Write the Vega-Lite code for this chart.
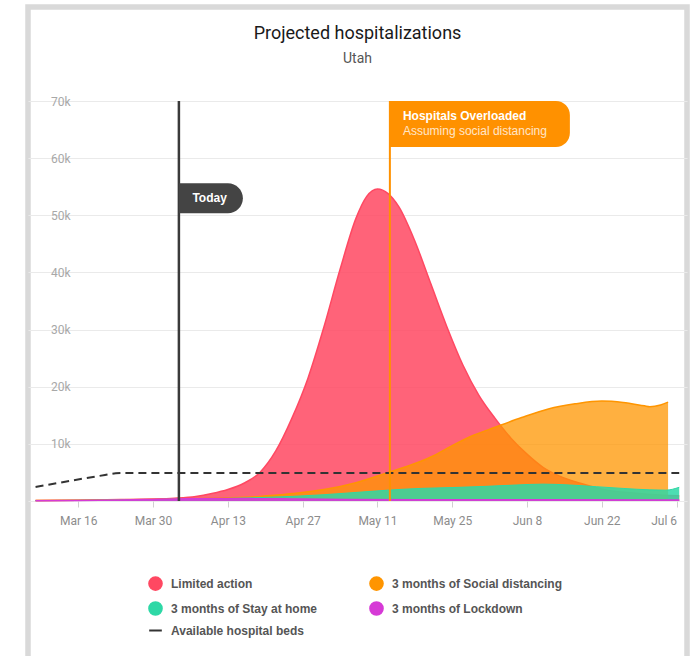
{
  "$schema": "https://vega.github.io/schema/vega-lite/v6.json",
  "width": 659,
  "height": 653,
  "autosize": {"type": "none"},
  "padding": {"left": 28, "top": 7, "right": 5, "bottom": -4},
  "background": "white",
  "title": {
    "text": "Projected hospitalizations",
    "subtitle": "Utah",
    "anchor": "middle",
    "frame": "group",
    "font": "Roboto",
    "fontSize": 18,
    "fontWeight": 400,
    "color": "#1a1a1a",
    "subtitleFont": "Roboto",
    "subtitleFontSize": 14,
    "subtitleColor": "#555555",
    "subtitlePadding": 9,
    "offset": -59
  },
  "config": {
    "view": {"stroke": "#d9d9d9", "strokeWidth": 5.5, "fill": "white"},
    "font": "Liberation Sans"
  },
  "datasets": {
    "curves": [
      {"s": "Limited action", "d": "2020-03-08T00:00", "v": 100},
      {"s": "Limited action", "d": "2020-03-16T00:00", "v": 150},
      {"s": "Limited action", "d": "2020-03-24T00:00", "v": 250},
      {"s": "Limited action", "d": "2020-03-30T00:00", "v": 350},
      {"s": "Limited action", "d": "2020-04-03T00:00", "v": 500},
      {"s": "Limited action", "d": "2020-04-07T00:00", "v": 800},
      {"s": "Limited action", "d": "2020-04-10T00:00", "v": 1300},
      {"s": "Limited action", "d": "2020-04-13T00:00", "v": 2000},
      {"s": "Limited action", "d": "2020-04-16T00:00", "v": 3100},
      {"s": "Limited action", "d": "2020-04-19T00:00", "v": 5000},
      {"s": "Limited action", "d": "2020-04-22T00:00", "v": 8800},
      {"s": "Limited action", "d": "2020-04-25T00:00", "v": 14500},
      {"s": "Limited action", "d": "2020-04-28T00:00", "v": 21500},
      {"s": "Limited action", "d": "2020-05-01T00:00", "v": 30500},
      {"s": "Limited action", "d": "2020-05-04T00:00", "v": 40500},
      {"s": "Limited action", "d": "2020-05-07T00:00", "v": 49500},
      {"s": "Limited action", "d": "2020-05-09T00:00", "v": 53300},
      {"s": "Limited action", "d": "2020-05-11T00:00", "v": 54600},
      {"s": "Limited action", "d": "2020-05-13T00:00", "v": 53800},
      {"s": "Limited action", "d": "2020-05-15T00:00", "v": 51500},
      {"s": "Limited action", "d": "2020-05-18T00:00", "v": 45500},
      {"s": "Limited action", "d": "2020-05-21T00:00", "v": 38000},
      {"s": "Limited action", "d": "2020-05-24T00:00", "v": 30500},
      {"s": "Limited action", "d": "2020-05-27T00:00", "v": 23800},
      {"s": "Limited action", "d": "2020-05-30T00:00", "v": 18500},
      {"s": "Limited action", "d": "2020-06-02T00:00", "v": 14500},
      {"s": "Limited action", "d": "2020-06-05T00:00", "v": 11000},
      {"s": "Limited action", "d": "2020-06-08T00:00", "v": 8200},
      {"s": "Limited action", "d": "2020-06-11T00:00", "v": 5900},
      {"s": "Limited action", "d": "2020-06-14T00:00", "v": 4400},
      {"s": "Limited action", "d": "2020-06-18T00:00", "v": 3100},
      {"s": "Limited action", "d": "2020-06-23T00:00", "v": 1900},
      {"s": "Limited action", "d": "2020-06-28T00:00", "v": 1400},
      {"s": "Limited action", "d": "2020-07-03T00:00", "v": 1050},
      {"s": "Limited action", "d": "2020-07-06T12:00", "v": 900},

      {"s": "3 months of Social distancing", "d": "2020-03-08T00:00", "v": 80},
      {"s": "3 months of Social distancing", "d": "2020-03-16T00:00", "v": 120},
      {"s": "3 months of Social distancing", "d": "2020-03-24T00:00", "v": 200},
      {"s": "3 months of Social distancing", "d": "2020-03-30T00:00", "v": 280},
      {"s": "3 months of Social distancing", "d": "2020-04-06T00:00", "v": 400},
      {"s": "3 months of Social distancing", "d": "2020-04-13T00:00", "v": 550},
      {"s": "3 months of Social distancing", "d": "2020-04-19T00:00", "v": 800},
      {"s": "3 months of Social distancing", "d": "2020-04-25T00:00", "v": 1300},
      {"s": "3 months of Social distancing", "d": "2020-05-01T00:00", "v": 2000},
      {"s": "3 months of Social distancing", "d": "2020-05-07T00:00", "v": 3200},
      {"s": "3 months of Social distancing", "d": "2020-05-13T00:00", "v": 5000},
      {"s": "3 months of Social distancing", "d": "2020-05-17T00:00", "v": 6200},
      {"s": "3 months of Social distancing", "d": "2020-05-21T00:00", "v": 7700},
      {"s": "3 months of Social distancing", "d": "2020-05-25T00:00", "v": 9700},
      {"s": "3 months of Social distancing", "d": "2020-05-29T00:00", "v": 11500},
      {"s": "3 months of Social distancing", "d": "2020-06-02T00:00", "v": 12900},
      {"s": "3 months of Social distancing", "d": "2020-06-07T00:00", "v": 14600},
      {"s": "3 months of Social distancing", "d": "2020-06-12T00:00", "v": 16100},
      {"s": "3 months of Social distancing", "d": "2020-06-17T00:00", "v": 17000},
      {"s": "3 months of Social distancing", "d": "2020-06-22T00:00", "v": 17500},
      {"s": "3 months of Social distancing", "d": "2020-06-26T00:00", "v": 17250},
      {"s": "3 months of Social distancing", "d": "2020-06-30T00:00", "v": 16650},
      {"s": "3 months of Social distancing", "d": "2020-07-01T00:00", "v": 16500},
      {"s": "3 months of Social distancing", "d": "2020-07-03T00:00", "v": 16800},
      {"s": "3 months of Social distancing", "d": "2020-07-04T10:00", "v": 17300},

      {"s": "3 months of Stay at home", "d": "2020-03-08T00:00", "v": 70},
      {"s": "3 months of Stay at home", "d": "2020-03-16T00:00", "v": 110},
      {"s": "3 months of Stay at home", "d": "2020-03-24T00:00", "v": 180},
      {"s": "3 months of Stay at home", "d": "2020-03-30T00:00", "v": 250},
      {"s": "3 months of Stay at home", "d": "2020-04-06T00:00", "v": 350},
      {"s": "3 months of Stay at home", "d": "2020-04-13T00:00", "v": 450},
      {"s": "3 months of Stay at home", "d": "2020-04-19T00:00", "v": 600},
      {"s": "3 months of Stay at home", "d": "2020-04-25T00:00", "v": 800},
      {"s": "3 months of Stay at home", "d": "2020-05-01T00:00", "v": 1100},
      {"s": "3 months of Stay at home", "d": "2020-05-07T00:00", "v": 1500},
      {"s": "3 months of Stay at home", "d": "2020-05-13T00:00", "v": 1900},
      {"s": "3 months of Stay at home", "d": "2020-05-19T00:00", "v": 2200},
      {"s": "3 months of Stay at home", "d": "2020-05-25T00:00", "v": 2350},
      {"s": "3 months of Stay at home", "d": "2020-05-31T00:00", "v": 2550},
      {"s": "3 months of Stay at home", "d": "2020-06-06T00:00", "v": 2800},
      {"s": "3 months of Stay at home", "d": "2020-06-11T00:00", "v": 2950},
      {"s": "3 months of Stay at home", "d": "2020-06-16T00:00", "v": 2800},
      {"s": "3 months of Stay at home", "d": "2020-06-21T00:00", "v": 2500},
      {"s": "3 months of Stay at home", "d": "2020-06-26T00:00", "v": 2200},
      {"s": "3 months of Stay at home", "d": "2020-07-01T00:00", "v": 1950},
      {"s": "3 months of Stay at home", "d": "2020-07-04T00:00", "v": 1900},
      {"s": "3 months of Stay at home", "d": "2020-07-06T12:00", "v": 2400},

      {"s": "3 months of Lockdown", "d": "2020-03-08T00:00", "v": 60},
      {"s": "3 months of Lockdown", "d": "2020-03-16T00:00", "v": 100},
      {"s": "3 months of Lockdown", "d": "2020-03-24T00:00", "v": 180},
      {"s": "3 months of Lockdown", "d": "2020-03-30T00:00", "v": 280},
      {"s": "3 months of Lockdown", "d": "2020-04-03T00:00", "v": 350},
      {"s": "3 months of Lockdown", "d": "2020-04-10T00:00", "v": 420},
      {"s": "3 months of Lockdown", "d": "2020-04-17T00:00", "v": 420},
      {"s": "3 months of Lockdown", "d": "2020-04-25T00:00", "v": 360},
      {"s": "3 months of Lockdown", "d": "2020-05-05T00:00", "v": 280},
      {"s": "3 months of Lockdown", "d": "2020-05-20T00:00", "v": 230},
      {"s": "3 months of Lockdown", "d": "2020-06-10T00:00", "v": 200},
      {"s": "3 months of Lockdown", "d": "2020-07-06T12:00", "v": 170}
    ],
    "beds": [
      {"s": "Available hospital beds", "d": "2020-03-08T00:00", "v": 2450},
      {"s": "Available hospital beds", "d": "2020-03-21T00:00", "v": 4550},
      {"s": "Available hospital beds", "d": "2020-03-23T00:00", "v": 4850},
      {"s": "Available hospital beds", "d": "2020-03-25T00:00", "v": 4900},
      {"s": "Available hospital beds", "d": "2020-07-06T12:00", "v": 4900}
    ],
    "events": [
      {"label": "Today", "sub": "", "d": "2020-04-03T20:00"},
      {"label": "Hospitals Overloaded", "sub": "Assuming social distancing", "d": "2020-05-13T08:00"}
    ]
  },
  "layer": [
    {
      "data": {"name": "curves"},
      "transform": [{"filter": "datum.s === 'Limited action'"}],
      "mark": {"type": "area", "interpolate": "monotone", "fillOpacity": 0.85, "line": {"strokeWidth": 1.5}},
      "encoding": {
        "x": {
          "field": "d", "type": "temporal",
          "scale": {"domain": [{"year": 2020, "month": 3, "date": 6, "hours": 14}, {"year": 2020, "month": 7, "date": 7, "hours": 23}], "nice": false},
          "axis": {
            "title": null,
            "values": [
              {"year": 2020, "month": 3, "date": 16},
              {"year": 2020, "month": 3, "date": 30},
              {"year": 2020, "month": 4, "date": 13},
              {"year": 2020, "month": 4, "date": 27},
              {"year": 2020, "month": 5, "date": 11},
              {"year": 2020, "month": 5, "date": 25},
              {"year": 2020, "month": 6, "date": 8},
              {"year": 2020, "month": 6, "date": 22},
              {"year": 2020, "month": 7, "date": 6}
            ],
            "format": "%b %-d",
            "offset": -159,
            "domain": false,
            "grid": false,
            "tickColor": "#d0d0d0",
            "tickSize": 6,
            "labelColor": "#8c8c8c",
            "labelFont": "Roboto",
            "labelFontSize": 12,
            "labelPadding": 8,
            "labelFlush": 12
          }
        },
        "y": {
          "field": "v", "type": "quantitative", "stack": null,
          "scale": {"domain": [-27825, 86450], "nice": false, "zero": false},
          "axis": {
            "title": null,
            "values": [0, 10000, 20000, 30000, 40000, 50000, 60000, 70000],
            "labelExpr": "datum.value === 0 ? '' : format(datum.value, '~s')",
            "grid": true,
            "gridColor": "#eaeaea",
            "domain": false,
            "ticks": false,
            "tickSize": 0,
            "labelPadding": -42,
            "labelAlign": "right",
            "labelBaseline": "middle",
            "labelColor": "#a8a8a8",
            "labelFont": "Roboto",
            "labelFontSize": 12
          }
        },
        "color": {
          "field": "s", "type": "nominal",
          "scale": {
            "domain": ["Limited action", "3 months of Social distancing", "3 months of Stay at home", "3 months of Lockdown", "Available hospital beds"],
            "range": ["#FF4862", "#FF9500", "#2ED8A6", "#D63AD6", "#333333"]
          },
          "legend": {
            "title": null,
            "orient": "none",
            "legendX": 120,
            "legendY": 569,
            "direction": "horizontal",
            "columns": 2,
            "padding": 0,
            "symbolType": "circle",
            "symbolSize": 160,
            "symbolOpacity": 1,
            "labelFont": "Liberation Sans",
            "labelFontWeight": "bold",
            "labelFontSize": 12,
            "labelColor": "#555555",
            "labelOffset": 8,
            "labelLimit": 300,
            "rowPadding": 4,
            "columnPadding": 48,
            "encode": {
              "symbols": {
                "update": {
                  "shape": {"signal": "datum.value === 'Available hospital beds' ? 'stroke' : 'circle'"},
                  "stroke": {"signal": "datum.value === 'Available hospital beds' ? '#333333' : 'transparent'"},
                  "strokeWidth": {"value": 2},
                  "fillOpacity": {"value": 1},
                  "opacity": {"value": 1}
                }
              }
            }
          }
        }
      }
    },
    {
      "data": {"name": "curves"},
      "transform": [{"filter": "datum.s === '3 months of Social distancing'"}],
      "mark": {"type": "area", "interpolate": "monotone", "fillOpacity": 0.75, "line": {"strokeWidth": 1.5}},
      "encoding": {
        "x": {"field": "d", "type": "temporal"},
        "y": {"field": "v", "type": "quantitative", "stack": null},
        "color": {"field": "s", "type": "nominal", "legend": null}
      }
    },
    {
      "data": {"name": "curves"},
      "transform": [{"filter": "datum.s === '3 months of Stay at home'"}],
      "mark": {"type": "area", "interpolate": "monotone", "fillOpacity": 0.85, "line": {"strokeWidth": 1}},
      "encoding": {
        "x": {"field": "d", "type": "temporal"},
        "y": {"field": "v", "type": "quantitative", "stack": null},
        "color": {"field": "s", "type": "nominal", "legend": null}
      }
    },
    {
      "data": {"name": "curves"},
      "transform": [{"filter": "datum.s === '3 months of Lockdown'"}],
      "mark": {"type": "area", "interpolate": "monotone", "fillOpacity": 0.9, "line": {"strokeWidth": 1.5}},
      "encoding": {
        "x": {"field": "d", "type": "temporal"},
        "y": {"field": "v", "type": "quantitative", "stack": null},
        "color": {"field": "s", "type": "nominal", "legend": null}
      }
    },
    {
      "data": {"name": "beds"},
      "mark": {"type": "line", "interpolate": "monotone", "color": "#333333", "strokeWidth": 2, "strokeDash": [8, 5]},
      "encoding": {
        "x": {"field": "d", "type": "temporal"},
        "y": {"field": "v", "type": "quantitative"}
      }
    },
    {
      "data": {"name": "events"},
      "transform": [{"filter": "datum.label === 'Today'"}],
      "mark": {"type": "rule", "color": "#3a3a3a", "strokeWidth": 2.5},
      "encoding": {
        "x": {"field": "d", "type": "temporal"},
        "y": {"datum": 70000},
        "y2": {"datum": 0}
      }
    },
    {
      "data": {"name": "events"},
      "transform": [{"filter": "datum.label === 'Hospitals Overloaded'"}],
      "mark": {"type": "rule", "color": "#FF9100", "strokeWidth": 2},
      "encoding": {
        "x": {"field": "d", "type": "temporal"},
        "y": {"datum": 70000},
        "y2": {"datum": 0}
      }
    },
    {
      "data": {"name": "events"},
      "transform": [{"filter": "datum.label === 'Today'"}],
      "mark": {"type": "rect", "color": "#444444", "x2Offset": 64, "yOffset": -15, "y2Offset": 15, "cornerRadiusTopRight": 15, "cornerRadiusBottomRight": 15},
      "encoding": {
        "x": {"field": "d", "type": "temporal"},
        "x2": {"field": "d"},
        "y": {"datum": 53000},
        "y2": {"datum": 53000}
      }
    },
    {
      "data": {"name": "events"},
      "transform": [{"filter": "datum.label === 'Today'"}],
      "mark": {"type": "text", "align": "left", "baseline": "middle", "dx": 13.5, "font": "Liberation Sans", "fontWeight": "bold", "fontSize": 12, "color": "white"},
      "encoding": {
        "x": {"field": "d", "type": "temporal"},
        "y": {"datum": 53000},
        "text": {"field": "label"}
      }
    },
    {
      "data": {"name": "events"},
      "transform": [{"filter": "datum.label === 'Hospitals Overloaded'"}],
      "mark": {"type": "rect", "color": "#FF9100", "x2Offset": 180, "y2Offset": 46, "cornerRadiusTopRight": 14, "cornerRadiusBottomRight": 14},
      "encoding": {
        "x": {"field": "d", "type": "temporal"},
        "x2": {"field": "d"},
        "y": {"datum": 70000},
        "y2": {"datum": 70000}
      }
    },
    {
      "data": {"name": "events"},
      "transform": [{"filter": "datum.label === 'Hospitals Overloaded'"}],
      "mark": {"type": "text", "align": "left", "baseline": "middle", "dx": 13, "dy": 15, "font": "Liberation Sans", "fontWeight": "bold", "fontSize": 12, "color": "white"},
      "encoding": {
        "x": {"field": "d", "type": "temporal"},
        "y": {"datum": 70000},
        "text": {"field": "label"}
      }
    },
    {
      "data": {"name": "events"},
      "transform": [{"filter": "datum.label === 'Hospitals Overloaded'"}],
      "mark": {"type": "text", "align": "left", "baseline": "middle", "dx": 13, "dy": 30, "font": "Liberation Sans", "fontSize": 12, "color": "white", "opacity": 0.78},
      "encoding": {
        "x": {"field": "d", "type": "temporal"},
        "y": {"datum": 70000},
        "text": {"field": "sub"}
      }
    }
  ]
}
